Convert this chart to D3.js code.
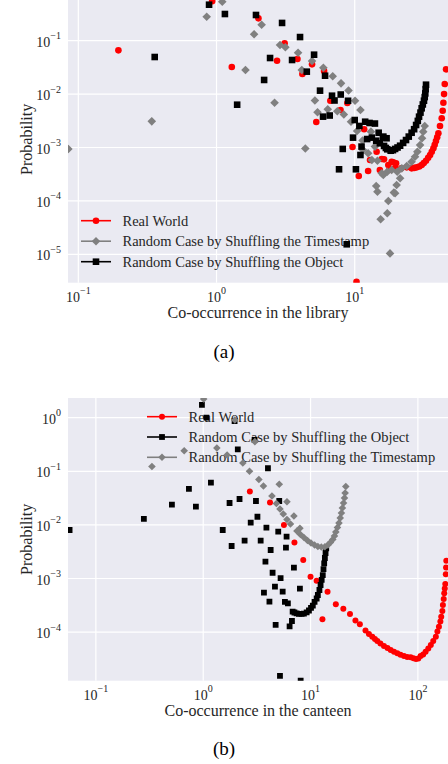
<!DOCTYPE html>
<html>
<head>
<meta charset="utf-8">
<script src="https://cdn.jsdelivr.net/npm/d3@7"></script>
<style>
  html, body { margin: 0; padding: 0; background: #fff; }
  svg { display: block; font-family: "Liberation Serif", "Times New Roman", serif; }
</style>
</head>
<body>
<svg id="chart" width="448" height="764"></svg>
<script>
// ---------- panel (a): library ----------
const namesA = ["Real World", "Random Case by Shuffling the Timestamp", "Random Case by Shuffling the Object"];
const xLimA = [0.0842, 47.3];
const yLimA = [2.94e-6, 0.687];
const xTickExpA = [-1, 0, 1];
const yTickExpA = [-5, -4, -3, -2, -1];

const realWorldA = [
  [0.195, 0.066], [0.93, 0.55], [2.01, 0.262], [3.11, 0.0894], [1.29, 0.0322], [2.74, 0.0422],
  [3.85, 0.0454], [4.91, 0.0361], [6.0, 0.0271], [4.18, 0.0238], [6.66, 0.0075], [5.27, 0.0030],
  [7.89, 0.00504], [8.84, 0.0068], [9.64, 0.00102], [11.7, 0.00219], [10.7, 2.92e-4], [12.5, 3.63e-4],
  [12.9, 5.83e-4], [14.4, 8.34e-4], [15.7, 6.1e-4], [16.3, 6.0e-4], [17.5, 4.7e-4], [18.5, 5.4e-4],
  [15.2, 3.8e-4], [17.8, 3.8e-4], [10.3, 3.07e-6], [19.0, 5.28e-4], [19.9, 5.06e-4],
  [19.6, 4.13e-4], [21.7, 4.1e-4], [23.8, 4.25e-4], [25.8, 4.07e-4], [26.9, 4.15e-4], [28.1, 4.25e-4],
  [29.3, 4.4e-4], [30.5, 4.7e-4], [31.6, 5.1e-4], [32.8, 5.66e-4], [34.0, 6.4e-4], [35.1, 7.24e-4],
  [36.1, 8.3e-4], [37.1, 9.66e-4], [37.9, 1.12e-3], [38.7, 1.32e-3], [39.5, 1.56e-3], [40.3, 1.85e-3],
  [41.4, 2.53e-3], [42.6, 3.52e-3], [43.3, 4.89e-3], [43.8, 6.9e-3], [44.3, 1.0e-2], [44.8, 1.55e-2],
  [45.8, 2.91e-2]
];

const timestampA = [
  [0.0847, 9.4e-4], [0.34, 0.00309], [0.849, 0.281], [1.10, 0.537], [2.12, 0.1995], [1.87, 0.132],
  [2.88, 0.083], [3.15, 0.0752], [3.89, 0.0596], [4.91, 0.0417], [5.93, 0.0312], [1.62, 0.0283],
  [4.14, 0.0283], [6.93, 0.0216], [7.96, 0.0159], [9.02, 0.0117], [10.05, 0.0075], [11.0, 0.00504],
  [5.15, 0.00759], [2.63, 0.00687], [5.38, 0.00456], [6.38, 0.00521], [7.48, 0.00476], [8.34, 0.00415],
  [9.40, 0.00304], [10.4, 0.00204], [11.4, 0.00135], [13.1, 0.00198], [11.5, 8.97e-4], [4.39, 9.57e-4],
  [12.5, 7.78e-4], [13.3, 5.83e-4], [14.0, 1.04e-3], [14.6, 5.66e-4], [15.7, 3.29e-4], [14.3, 1.9e-4],
  [14.6, 1.49e-4], [15.4, 4.52e-5], [17.2, 5.86e-5], [17.5, 9.96e-5], [19.2, 1.43e-4], [19.6, 1.39e-4],
  [20.1, 1.99e-4], [21.3, 2.65e-4], [18.0, 1.04e-5], [16.1, 3.05e-4], [17.2, 3.52e-4], [18.5, 3.79e-4],
  [20.3, 3.52e-4], [21.9, 4.07e-4], [23.8, 4.5e-4], [25.8, 5.42e-4], [27.3, 6.73e-4], [28.4, 8.34e-4],
  [29.7, 1.11e-3], [30.7, 1.49e-3], [31.3, 1.98e-3], [32.1, 2.53e-3]
];

const objectA = [
  [0.357, 0.0495], [0.883, 0.472], [1.15, 0.316], [1.93, 0.303], [2.98, 0.215], [4.02, 0.117],
  [5.08, 0.0547], [2.44, 0.0474], [3.52, 0.0435], [4.50, 0.0263], [6.10, 0.0221], [2.21, 0.0184],
  [5.61, 0.0116], [1.41, 0.00633], [6.85, 0.00933], [7.92, 0.00982], [7.14, 0.00759], [8.95, 0.0075],
  [5.90, 0.00378], [6.59, 0.00397], [10.0, 0.00327], [10.8, 0.00253], [11.9, 0.00304], [12.8, 0.00288],
  [14.0, 0.00281], [9.72, 0.00153], [14.9, 0.00189], [11.2, 0.00104], [8.19, 9.4e-4], [11.0, 7.24e-4],
  [7.70, 3.91e-4], [10.2, 3.91e-4], [8.75, 1.54e-5], [12.3, 0.00144], [13.3, 0.00153], [14.3, 0.00134],
  [15.2, 1.2e-3], [16.1, 1.6e-3], [17.0, 1.49e-3],
  [16.0, 1.53e-3], [16.3, 1.07e-3], [16.8, 9.8e-4], [17.2, 9.25e-4], [18.2, 8.7e-4], [18.9, 8.9e-4],
  [19.6, 9.4e-4], [20.4, 1.0e-3], [21.3, 1.08e-3], [22.4, 1.22e-3], [23.5, 1.38e-3], [24.6, 1.6e-3],
  [25.8, 1.89e-3], [26.9, 2.2e-3], [27.8, 2.64e-3], [28.6, 3.15e-3], [29.2, 3.78e-3], [29.9, 4.5e-3],
  [30.5, 5.42e-3], [31.1, 6.4e-3], [31.7, 7.52e-3], [32.1, 8.8e-3], [32.4, 1.03e-2], [32.6, 1.24e-2],
  [32.8, 1.5e-2]
];

// ---------- panel (b): canteen ----------
const namesB = ["Real World", "Random Case by Shuffling the Object", "Random Case by Shuffling the Timestamp"];
const xLimB = [0.0550, 190.8];
const yLimB = [1.24e-5, 2.33];
const xTickExpB = [-1, 0, 1, 2];
const yTickExpB = [-4, -3, -2, -1, 0];

const realWorldB = [
  [2.72, 0.042], [4.19, 0.0262], [5.65, 0.00995], [7.08, 0.0047], [8.55, 0.00221], [10.0, 0.00108],
  [11.4, 9.1e-4], [12.9, 1.73e-4], [14.4, 5.67e-4], [17.2, 3.32e-4], [20.2, 2.74e-4], [23.3, 2.18e-4],
  [26.2, 1.64e-4], [28.8, 1.40e-4], [32.5, 1.07e-4], [35.0, 9.22e-5], [37.6, 8.2e-5], [39.8, 7.43e-5],
  [41.9, 6.82e-5], [44.8, 6.12e-5], [48.3, 5.5e-5], [52.1, 5.05e-5], [55.8, 4.63e-5], [59.9, 4.31e-5],
  [64.3, 4.02e-5], [68.9, 3.79e-5], [74.2, 3.58e-5], [79.6, 3.43e-5], [85.7, 3.39e-5], [91.0, 3.24e-5],
  [96.0, 3.15e-5], [101, 3.21e-5], [106, 3.58e-5], [112, 3.82e-5], [118, 4.31e-5], [125, 4.94e-5],
  [132, 5.74e-5], [139, 6.82e-5], [147, 8.2e-5], [152, 1.03e-4], [157, 1.26e-4], [162, 1.58e-4],
  [165, 1.94e-4], [169, 2.48e-4], [171, 3.21e-4], [174, 4.15e-4], [176, 5.3e-4], [178, 6.5e-4],
  [180, 7.9e-4], [182, 1.2e-3], [183, 1.6e-3], [184, 2.15e-3]
];

const objectB = [
  [0.0569, 0.00803], [0.280, 0.0129], [0.511, 0.0238], [0.736, 0.0468], [0.855, 0.0219], [0.973, 1.73],
  [1.07, 1.0], [1.18, 0.0613], [1.52, 0.00803], [1.76, 0.0256], [1.84, 0.00404], [1.96, 0.867],
  [2.10, 0.257], [2.18, 0.0304], [2.43, 0.00507], [2.77, 0.011], [3.01, 0.384], [3.10, 0.0279],
  [3.20, 0.0142], [3.43, 0.00507], [3.80, 0.00206], [3.68, 5.43e-4], [3.88, 0.00887], [4.01, 0.114],
  [4.14, 3.69e-4], [4.25, 3.40e-3], [4.43, 1.28e-3], [4.66, 7.03e-4], [4.73, 1.37e-4], [5.0, 7.46e-3],
  [5.11, 0.0279], [5.26, 1.02e-3], [5.19, 1.52e-5], [5.50, 5.67e-4], [5.77, 3.65e-4], [5.90, 3.76e-3],
  [5.98, 6.03e-3], [6.15, 3.44e-4], [6.38, 1.28e-4], [6.71, 1.61e-4], [7.0, 1.59e-3], [7.96, 6.45e-4],
  [8.09, 1.24e-5],
  [6.81, 2.40e-4], [7.08, 2.32e-4], [7.42, 2.24e-4], [7.79, 2.18e-4], [8.26, 2.18e-4], [8.67, 2.22e-4],
  [9.2, 2.34e-4], [9.66, 2.53e-4], [10.1, 2.82e-4], [10.5, 3.13e-4], [10.9, 3.65e-4], [11.4, 4.24e-4],
  [11.7, 4.92e-4], [12.1, 6.1e-4], [12.4, 7.56e-4], [12.7, 9.4e-4], [13.0, 1.16e-3], [13.2, 1.5e-3],
  [13.4, 1.92e-3], [13.6, 2.41e-3], [13.8, 2.99e-3], [14.0, 3.66e-3]
];

const timestampB = [
  [1.01, 2.23], [0.333, 0.123], [0.665, 0.242], [1.34, 0.272], [1.67, 0.201], [1.97, 0.906],
  [2.34, 0.143], [2.70, 0.1], [3.03, 0.357], [3.30, 0.0703], [3.64, 0.0532], [5.11, 0.0572],
  [4.37, 0.0346], [4.81, 0.0251], [6.03, 0.0271], [5.19, 0.0198], [5.57, 0.016], [7.0, 0.0147],
  [6.03, 0.0126], [6.50, 0.0104], [7.96, 0.00864],
  [7.47, 7.69e-3], [8.05, 6.62e-3], [8.68, 5.82e-3], [9.36, 5.12e-3], [10.1, 4.59e-3], [10.9, 4.22e-3],
  [11.7, 3.95e-3], [12.6, 3.87e-3], [13.6, 3.92e-3], [14.5, 4.22e-3], [15.3, 4.7e-3], [16.1, 5.34e-3],
  [16.7, 6.21e-3], [17.2, 7.38e-3], [17.8, 8.94e-3], [18.4, 0.0108], [18.9, 0.0135], [19.4, 0.0167],
  [19.8, 0.0207], [20.3, 0.0256], [20.7, 0.0318], [21.0, 0.0394], [21.3, 0.052]
];

// ---------- drawing ----------
const svg = d3.select("#chart");

const BG = "#eaeaf2";
const RED = "#ff0000", GRAY = "#808080", BLACK = "#000000";

function markerPath(kind, s) {
  if (kind === "circle") return d3.symbol(d3.symbolCircle, Math.PI * s * s)();
  if (kind === "square") return `M${-s},${-s}H${s}V${s}H${-s}Z`;
  return `M0,${-s}L${s},0L0,${s}L${-s},0Z`; // diamond
}

function supLabel(sel, exp) {
  sel.append("tspan").text("10");
  sel.append("tspan").attr("font-size", 10).attr("dy", -7.5)
    .text(String(exp).replace("-", "\u2212"));
}

function drawPanel(p) {
  const x = d3.scaleLog().domain(p.xLim).range([p.left, p.right]);
  const y = d3.scaleLog().domain(p.yLim).range([p.bottom, p.top]);
  const g = svg.append("g");

  g.append("rect").attr("x", p.left).attr("y", p.top)
    .attr("width", p.right - p.left).attr("height", p.bottom - p.top).attr("fill", BG);

  // grid
  g.selectAll(".gx").data(p.xTicks).enter().append("line")
    .attr("x1", d => x(10 ** d)).attr("x2", d => x(10 ** d))
    .attr("y1", p.top).attr("y2", p.bottom)
    .attr("stroke", "#fff").attr("stroke-width", 1.2);
  g.selectAll(".gy").data(p.yTicks).enter().append("line")
    .attr("x1", p.left).attr("x2", p.right)
    .attr("y1", d => y(10 ** d)).attr("y2", d => y(10 ** d))
    .attr("stroke", "#fff").attr("stroke-width", 1.2);

  // legend (drawn under the markers)
  const lg = g.append("g");
  p.series.forEach((s, i) => {
    const ly = p.legend.y + i * p.legend.dy;
    lg.append("line").attr("x1", p.legend.x).attr("x2", p.legend.x + 30)
      .attr("y1", ly).attr("y2", ly).attr("stroke", s.color).attr("stroke-width", 1.6);
    lg.append("path").attr("d", markerPath(s.kind, s.size))
      .attr("transform", `translate(${p.legend.x + 15},${ly})`).attr("fill", s.color);
    lg.append("text").attr("x", p.legend.x + 41.5).attr("y", ly + 5)
      .attr("font-size", 14.5).attr("fill", "#262626").text(s.name);
  });

  // markers
  const clipId = "clip-" + p.id;
  svg.append("defs").append("clipPath").attr("id", clipId)
    .append("rect").attr("x", p.left).attr("y", p.top)
    .attr("width", p.right - p.left).attr("height", p.bottom - p.top);
  const pts = g.append("g").attr("clip-path", `url(#${clipId})`);
  p.series.forEach(s => {
    pts.append("g").selectAll("path").data(s.data).enter().append("path")
      .attr("d", markerPath(s.kind, s.size))
      .attr("transform", d => `translate(${x(d[0])},${y(d[1])})`)
      .attr("fill", s.color);
  });

  // tick labels
  g.selectAll(".tx").data(p.xTicks).enter().append("text")
    .attr("x", d => x(10 ** d)).attr("y", p.bottom + 19)
    .attr("text-anchor", "middle").attr("font-size", 14).attr("fill", "#262626")
    .each(function (d) { supLabel(d3.select(this), d); });
  g.selectAll(".ty").data(p.yTicks).enter().append("text")
    .attr("x", 61).attr("y", d => y(10 ** d) + 6)
    .attr("text-anchor", "end").attr("font-size", 14).attr("fill", "#262626")
    .each(function (d) { supLabel(d3.select(this), d); });

  // axis labels
  g.append("text").attr("x", (p.left + p.right) / 2).attr("y", p.bottom + 35.5)
    .attr("text-anchor", "middle").attr("font-size", 16).attr("fill", "#262626").text(p.xLabel);
  g.append("text").attr("transform", `translate(31.5,${(p.top + p.bottom) / 2}) rotate(-90)`)
    .attr("text-anchor", "middle").attr("font-size", 16).attr("fill", "#262626").text("Probability");

  g.append("text").attr("x", 224).attr("y", p.captionY)
    .attr("text-anchor", "middle").attr("font-size", 19).attr("fill", "#000").text(p.caption);
}

drawPanel({
  id: "a", left: 68, right: 448, top: -4, bottom: 282.7,
  xLim: xLimA, yLim: yLimA, xTicks: xTickExpA, yTicks: yTickExpA,
  xLabel: "Co-occurrence in the library", caption: "(a)", captionY: 358,
  legend: { x: 81, y: 220.7, dy: 20.5 },
  series: [
    { name: namesA[0], data: realWorldA, color: RED, kind: "circle", size: 3.3 },
    { name: namesA[1], data: timestampA, color: GRAY, kind: "diamond", size: 4.3 },
    { name: namesA[2], data: objectA, color: BLACK, kind: "square", size: 3.3 }
  ]
});

drawPanel({
  id: "b", left: 68, right: 448, top: 398, bottom: 680.7,
  xLim: xLimB, yLim: yLimB, xTicks: xTickExpB, yTicks: yTickExpB,
  xLabel: "Co-occurrence in the canteen", caption: "(b)", captionY: 755,
  legend: { x: 147, y: 416.7, dy: 20.3 },
  series: [
    { name: namesB[0], data: realWorldB, color: RED, kind: "circle", size: 3.0 },
    { name: namesB[1], data: objectB, color: BLACK, kind: "square", size: 2.9 },
    { name: namesB[2], data: timestampB, color: GRAY, kind: "diamond", size: 3.8 }
  ]
});
</script>
</body>
</html>
